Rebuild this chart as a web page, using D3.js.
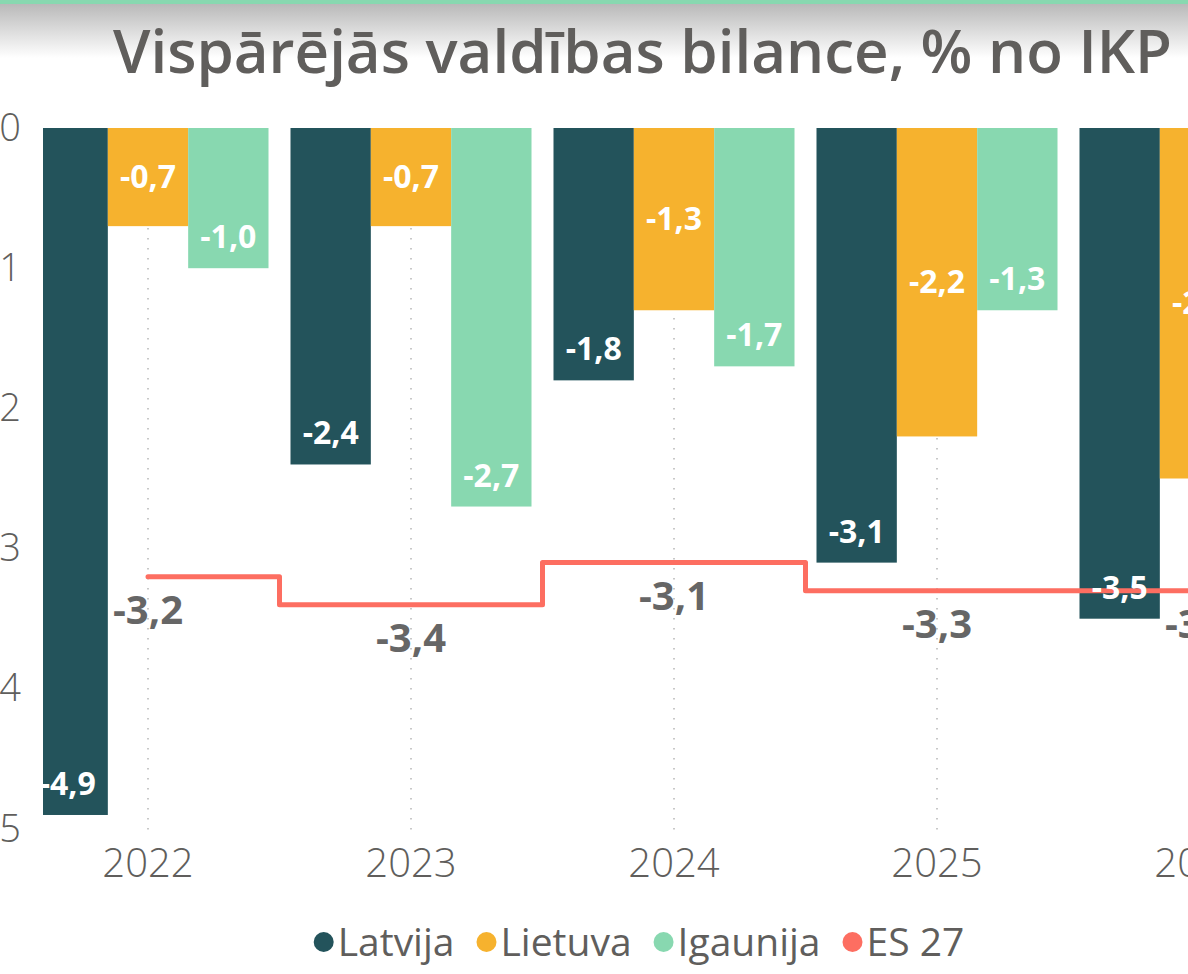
<!DOCTYPE html>
<html>
<head>
<meta charset="utf-8">
<script src="https://cdn.jsdelivr.net/npm/d3@7"></script>
<style>
  html, body { margin: 0; padding: 0; background: #fff; overflow: hidden; }
  svg { display: block; font-family: "Open Sans", "Noto Sans", sans-serif; }
</style>
</head>
<body>
<div id="chart-area"></div>
<script>
// Data
let years = ["2022", "2023", "2024", "2025", "2026"];
let seriesNames = ["Latvija", "Lietuva", "Igaunija"];
let latvija = [-4.9, -2.4, -1.8, -3.1, -3.5];
let lietuva = [-0.7, -0.7, -1.3, -2.2, -2.5];
let igaunija = [-1.0, -2.7, -1.7, -1.3, -1.5];
let es27 = [-3.2, -3.4, -3.1, -3.3, -3.3];
let yTicks = [0, -1, -2, -3, -4, -5];
let legendNames = ["Latvija", "Lietuva", "Igaunija", "ES 27"];
let colors = ["#23535b", "#f6b22e", "#88d8b0", "#fd6e61"];

let seriesValues = [latvija, lietuva, igaunija];

// Chart area
let width = 1188,
    height = 974;

let svg = d3.select("#chart-area").append("svg")
    .attr("width", width)
    .attr("height", height);

let fmt = v => v.toFixed(1).replace(".", ",");
let textColor = "#605e5c";

// Header band
let defs = svg.append("defs");
let grad = defs.append("linearGradient")
    .attr("id", "hdr")
    .attr("x1", 0).attr("x2", 0).attr("y1", 0).attr("y2", 1);
grad.append("stop").attr("offset", "0%").attr("stop-color", "#b8b8b8");
grad.append("stop").attr("offset", "100%").attr("stop-color", "#ffffff");

svg.append("rect").attr("x", 0).attr("y", 3).attr("width", width).attr("height", 55)
    .attr("fill", "url(#hdr)");
svg.append("rect").attr("x", 0).attr("y", 0).attr("width", width).attr("height", 4)
    .attr("fill", "#88d8b0");

// Title
svg.append("text")
    .attr("x", 113)
    .attr("y", 73)
    .attr("textLength", 1059)
    .attr("lengthAdjust", "spacingAndGlyphs")
    .attr("fill", textColor)
    .style("font-size", "60px")
    .style("font-weight", 600)
    .text("Vispārējās valdības bilance, % no IKP");

// Scales
let step = 263;
let x = d3.scaleBand()
    .domain(years)
    .range([148 - step / 2, 148 - step / 2 + step * years.length])
    .padding(0);

let xSub = d3.scaleBand()
    .domain(seriesNames)
    .range([11, step - 11]);

let y = d3.scaleLinear()
    .domain([0, -5])
    .range([128, 829]);

// Clip for plot area
defs.append("clipPath").attr("id", "plotClip")
    .append("rect").attr("x", 43).attr("y", 0).attr("width", width).attr("height", height);

// Gridlines (dotted, at category centers)
svg.append("g")
    .attr("class", "grid")
    .selectAll("line")
    .data(years)
    .enter()
    .append("line")
    .attr("x1", d => x(d) + x.bandwidth() / 2)
    .attr("x2", d => x(d) + x.bandwidth() / 2)
    .attr("y1", y(0))
    .attr("y2", 832)
    .attr("stroke", "#c8c8c8")
    .attr("stroke-width", 2)
    .attr("stroke-dasharray", "1.5,8.5");

// Y axis
let yAxis = d3.axisLeft(y)
    .tickValues(yTicks)
    .tickFormat(d => d === 0 ? "0" : "-" + Math.abs(d))
    .tickSize(0)
    .tickPadding(0);

let yAxisGroup = svg.append("g")
    .attr("class", "y-axis axis")
    .attr("transform", "translate(21,0)")
    .call(yAxis);
yAxisGroup.select(".domain").remove();
yAxisGroup.selectAll("text")
    .attr("fill", textColor)
    .style("font-size", "38px")
    .style("font-weight", 300)
    .style("font-family", "'Open Sans', sans-serif");

// X axis
let xAxis = d3.axisBottom(x).tickSize(0).tickPadding(0);
let xAxisGroup = svg.append("g")
    .attr("class", "x-axis axis")
    .attr("transform", "translate(0,877)")
    .call(xAxis);
xAxisGroup.select(".domain").remove();
xAxisGroup.selectAll("text")
    .attr("dy", 0)
    .attr("fill", textColor)
    .style("font-size", "40px")
    .style("font-weight", 300)
    .style("font-family", "'Open Sans', sans-serif");

// Bars
let barData = [];
years.forEach((yr, i) => {
    seriesNames.forEach((s, j) => {
        barData.push({year: yr, series: s, idx: j, value: seriesValues[j][i]});
    });
});

let plot = svg.append("g").attr("clip-path", "url(#plotClip)");

plot.selectAll(".bar")
    .data(barData)
    .enter()
    .append("rect")
    .attr("class", "bar")
    .attr("x", d => x(d.year) + xSub(d.series))
    .attr("y", y(0))
    .attr("width", xSub.bandwidth())
    .attr("height", d => y(d.value) - y(0))
    .attr("fill", d => colors[d.idx]);

// ES 27 step line
let lineData = years.map((yr, i) => ({year: yr, value: es27[i]}));
let line = d3.line()
    .x(d => x(d.year) + x.bandwidth() / 2)
    .y(d => y(d.value))
    .curve(d3.curveStep);

plot.append("path")
    .datum(lineData)
    .attr("d", line)
    .attr("fill", "none")
    .attr("stroke", colors[3])
    .attr("stroke-width", 5)
    .attr("stroke-linejoin", "round")
    .attr("stroke-linecap", "round");

// Bar labels: Lietuva centered, others inside end
plot.selectAll(".bar-label")
    .data(barData)
    .enter()
    .append("text")
    .attr("class", "bar-label")
    .attr("x", d => x(d.year) + xSub(d.series) + xSub.bandwidth() / 2)
    .attr("y", d => d.series === "Lietuva" ? (y(0) + y(d.value)) / 2 + 11 : y(d.value) - 20)
    .attr("text-anchor", "middle")
    .attr("fill", "#fff")
    .style("font-size", "32px")
    .style("font-weight", 700)
    .text(d => fmt(d.value));

plot.selectAll(".line-label")
    .data(lineData)
    .enter()
    .append("text")
    .attr("class", "line-label")
    .attr("x", d => x(d.year) + x.bandwidth() / 2)
    .attr("y", d => y(d.value) + 47)
    .attr("text-anchor", "middle")
    .attr("fill", "#666")
    .style("font-size", "40px")
    .style("font-weight", 700)
    .text(d => fmt(d.value));

// Legend
let legend = svg.append("g").attr("class", "legend");
let items = legend.selectAll("g")
    .data(legendNames)
    .enter()
    .append("g");

items.append("circle")
    .attr("r", 10)
    .attr("cx", 10)
    .attr("cy", -14)
    .attr("fill", (d, i) => colors[i]);

items.append("text")
    .attr("x", 24)
    .attr("fill", textColor)
    .style("font-size", "39px")
    .style("font-weight", 400)
    .text(d => d);

let offset = 0;
let positions = [];
items.each(function() {
    let w = 24 + d3.select(this).select("text").node().getComputedTextLength();
    positions.push(offset);
    offset += w + 22;
});
let legendWidth = offset - 22;
items.attr("transform", (d, i) => "translate(" + positions[i] + ",0)");
legend.attr("transform", "translate(" + (639 - legendWidth / 2) + ",956)");
</script>
</body>
</html>
